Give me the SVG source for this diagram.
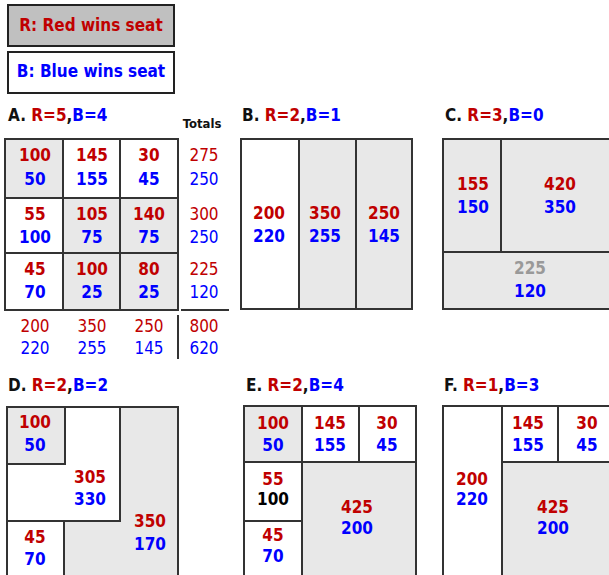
<svg xmlns="http://www.w3.org/2000/svg" width="609" height="575" viewBox="0 0 609 575">
<style>
text{font-family:"DejaVu Sans Condensed","DejaVu Sans",sans-serif;font-stretch:condensed;font-size:17px;font-weight:bold}
.c{text-anchor:middle}
.r{fill:#c00000}
.b{fill:#0000ff}
.k{fill:#000}
.g{fill:#999}
.n{font-weight:normal}
.t{fill:#111}
.cell{stroke:#333;stroke-width:2}
.w{fill:#fff}
.s{fill:#e8e8e8}
.ln{stroke:#333;stroke-width:2;fill:none}
</style>
<rect width="609" height="575" fill="#fff"/>
<g id="legend-red"><rect x="8" y="5" width="166" height="41" fill="#c0c0c0" stroke="#222" stroke-width="2"/><text x="91" y="31" class="c r">R: Red wins seat</text></g>
<g id="legend-blue"><rect x="8" y="52" width="166" height="41" fill="#fff" stroke="#222" stroke-width="2"/><text x="91" y="77" class="c b">B: Blue wins seat</text></g>

<g id="panelA">
<text x="8" y="121" class="t">A. <tspan class="r">R=5</tspan>,<tspan class="b">B=4</tspan></text>
<text x="202" y="128" class="c t" style="font-size:13px">Totals</text>
<rect x="5" y="139" width="58" height="59" class="cell s"/>
<rect x="63" y="139" width="57" height="59" class="cell w"/>
<rect x="120" y="139" width="58" height="59" class="cell w"/>
<rect x="5" y="198" width="58" height="55" class="cell w"/>
<rect x="63" y="198" width="57" height="55" class="cell s"/>
<rect x="120" y="198" width="58" height="55" class="cell s"/>
<rect x="5" y="253" width="58" height="57" class="cell w"/>
<rect x="63" y="253" width="57" height="57" class="cell s"/>
<rect x="120" y="253" width="58" height="57" class="cell s"/>
<text x="35" y="161" class="c r">100</text><text x="35" y="185" class="c b">50</text>
<text x="92" y="161" class="c r">145</text><text x="92" y="185" class="c b">155</text>
<text x="149" y="161" class="c r">30</text><text x="149" y="185" class="c b">45</text>
<text x="35" y="220" class="c r">55</text><text x="35" y="243" class="c b">100</text>
<text x="92" y="220" class="c r">105</text><text x="92" y="243" class="c b">75</text>
<text x="149" y="220" class="c r">140</text><text x="149" y="243" class="c b">75</text>
<text x="35" y="275" class="c r">45</text><text x="35" y="298" class="c b">70</text>
<text x="92" y="275" class="c r">100</text><text x="92" y="298" class="c b">25</text>
<text x="149" y="275" class="c r">80</text><text x="149" y="298" class="c b">25</text>
<text x="204" y="161" class="c r n">275</text><text x="204" y="185" class="c b n">250</text>
<text x="204" y="220" class="c r n">300</text><text x="204" y="243" class="c b n">250</text>
<text x="204" y="275" class="c r n">225</text><text x="204" y="298" class="c b n">120</text>
<text x="35" y="332" class="c r n">200</text><text x="35" y="354" class="c b n">220</text>
<text x="92" y="332" class="c r n">350</text><text x="92" y="354" class="c b n">255</text>
<text x="149" y="332" class="c r n">250</text><text x="149" y="354" class="c b n">145</text>
<text x="204" y="332" class="c r n">800</text><text x="204" y="354" class="c b n">620</text>
</g>

<g id="panelB">
<text x="242" y="121" class="t">B. <tspan class="r">R=2</tspan>,<tspan class="b">B=1</tspan></text>
<rect x="241" y="139" width="58" height="170" class="cell w"/>
<rect x="299" y="139" width="57" height="170" class="cell s"/>
<rect x="356" y="139" width="56" height="170" class="cell s"/>
<text x="269" y="219" class="c r">200</text><text x="269" y="242" class="c b">220</text>
<text x="325" y="219" class="c r">350</text><text x="325" y="242" class="c b">255</text>
<text x="384" y="219" class="c r">250</text><text x="384" y="242" class="c b">145</text>
</g>

<g id="panelC">
<text x="445" y="121" class="t">C. <tspan class="r">R=3</tspan>,<tspan class="b">B=0</tspan></text>
<rect x="443" y="139" width="58" height="113" class="cell s"/>
<rect x="501" y="139" width="116" height="113" class="cell s"/>
<rect x="443" y="252" width="174" height="57" class="cell s"/>
<text x="473" y="190" class="c r">155</text><text x="473" y="213" class="c b">150</text>
<text x="560" y="190" class="c r">420</text><text x="560" y="213" class="c b">350</text>
<text x="530" y="274" class="c g">225</text><text x="530" y="297" class="c b">120</text>
</g>

<g id="panelD">
<text x="8" y="391" class="t">D. <tspan class="r">R=2</tspan>,<tspan class="b">B=2</tspan></text>
<rect x="7" y="407" width="171" height="172" class="cell w"/>
<path d="M120 407 H178 V579 H64 V521 H120 Z" class="s"/>
<rect x="7" y="407" width="58" height="57" class="cell s"/>
<path d="M120 407 V521 H7 M64 521 V579" class="ln"/>
<rect x="7" y="407" width="171" height="172" class="ln"/>
<text x="35" y="428" class="c r">100</text><text x="35" y="451" class="c b">50</text>
<text x="90" y="483" class="c r">305</text><text x="90" y="505" class="c b">330</text>
<text x="150" y="527" class="c r">350</text><text x="150" y="550" class="c b">170</text>
<text x="35" y="543" class="c r">45</text><text x="35" y="565" class="c b">70</text>
</g>

<g id="panelE">
<text x="246" y="391" class="t">E. <tspan class="r">R=2</tspan>,<tspan class="b">B=4</tspan></text>
<rect x="244" y="406" width="58" height="56" class="cell s"/>
<rect x="302" y="406" width="57" height="56" class="cell w"/>
<rect x="359" y="406" width="57" height="56" class="cell w"/>
<rect x="244" y="462" width="58" height="59" class="cell w"/>
<rect x="244" y="521" width="58" height="58" class="cell w"/>
<rect x="302" y="462" width="114" height="117" class="cell s"/>
<text x="273" y="429" class="c r">100</text><text x="273" y="451" class="c b">50</text>
<text x="330" y="429" class="c r">145</text><text x="330" y="451" class="c b">155</text>
<text x="387" y="429" class="c r">30</text><text x="387" y="451" class="c b">45</text>
<text x="273" y="485" class="c r">55</text><text x="273" y="505" class="c k">100</text>
<text x="357" y="513" class="c r">425</text><text x="357" y="534" class="c b">200</text>
<text x="273" y="541" class="c r">45</text><text x="273" y="562" class="c b">70</text>
</g>

<g id="panelF">
<text x="444" y="391" class="t">F. <tspan class="r">R=1</tspan>,<tspan class="b">B=3</tspan></text>
<rect x="443" y="406" width="59" height="173" class="cell w"/>
<rect x="502" y="406" width="56" height="56" class="cell w"/>
<rect x="558" y="406" width="58" height="56" class="cell w"/>
<rect x="502" y="462" width="114" height="117" class="cell s"/>
<text x="472" y="485" class="c r">200</text><text x="472" y="505" class="c b">220</text>
<text x="528" y="429" class="c r">145</text><text x="528" y="451" class="c b">155</text>
<text x="587" y="429" class="c r">30</text><text x="587" y="451" class="c b">45</text>
<text x="553" y="513" class="c r">425</text><text x="553" y="534" class="c b">200</text>
</g>

<g id="connectors">
<path d="M181 310 H229 M178 315 V359" class="ln"/>
</g>
</svg>
